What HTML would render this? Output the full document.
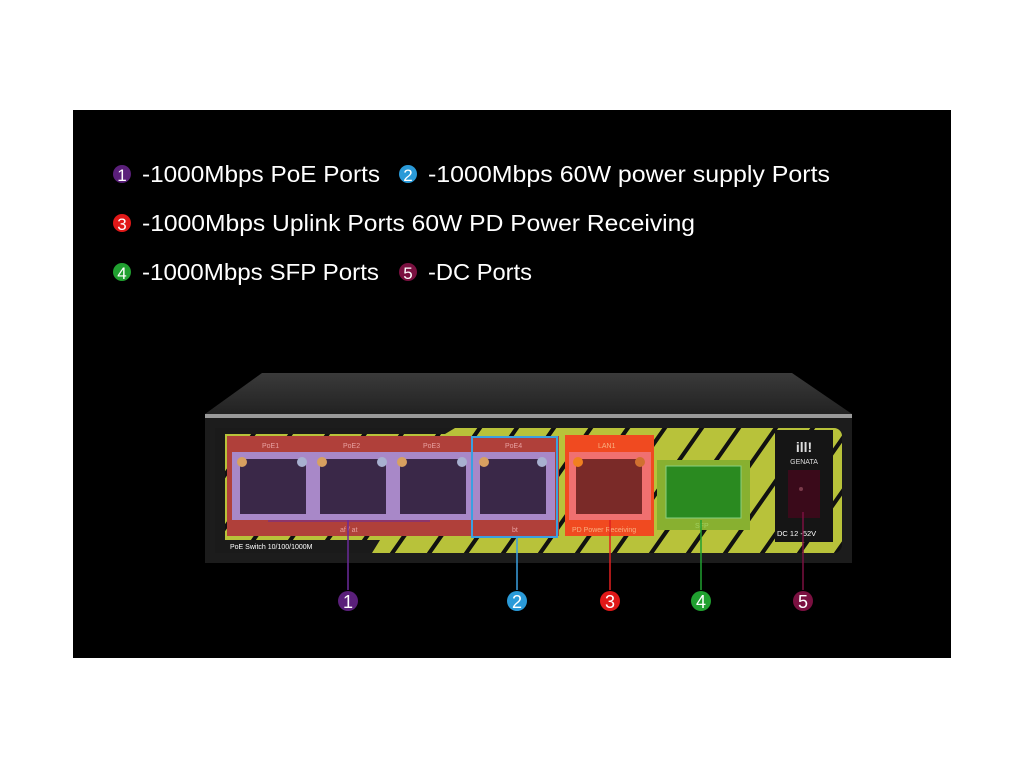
<!DOCTYPE html>
<html><head><meta charset="utf-8"><style>
html,body{margin:0;padding:0;background:#fff;width:1024px;height:768px;overflow:hidden}
svg{display:block}
</style></head><body>
<svg width="1024" height="768" viewBox="0 0 1024 768" xmlns="http://www.w3.org/2000/svg" font-family="Liberation Sans, sans-serif">
<defs>
<pattern id="st" width="37" height="130" patternUnits="userSpaceOnUse" patternTransform="skewX(-35)">
<rect width="37" height="130" fill="#b8c23a"/>
<rect x="0" width="5" height="130" fill="#111"/>
</pattern>
<linearGradient id="top" x1="0" y1="0" x2="0" y2="1"><stop offset="0" stop-color="#3a3a3a"/><stop offset="1" stop-color="#222"/></linearGradient>
</defs>
<rect x="73" y="110" width="878" height="548" fill="#000"/>
<g font-size="23" fill="#fff">
<circle cx="122" cy="174" r="9" fill="#5a1f7a"/><text x="122" y="181" font-size="17" text-anchor="middle">1</text>
<text x="142" y="182" textLength="238" lengthAdjust="spacingAndGlyphs">-1000Mbps PoE Ports</text>
<circle cx="408" cy="174" r="9" fill="#2a9ad8"/><text x="408" y="181" font-size="17" text-anchor="middle">2</text>
<text x="428" y="182" textLength="402" lengthAdjust="spacingAndGlyphs">-1000Mbps 60W power supply Ports</text>
<circle cx="122" cy="223" r="9" fill="#e01818"/><text x="122" y="230" font-size="17" text-anchor="middle">3</text>
<text x="142" y="231" textLength="553" lengthAdjust="spacingAndGlyphs">-1000Mbps Uplink Ports 60W PD Power Receiving</text>
<circle cx="122" cy="272" r="9" fill="#20a030"/><text x="122" y="279" font-size="17" text-anchor="middle">4</text>
<text x="142" y="280" textLength="237" lengthAdjust="spacingAndGlyphs">-1000Mbps SFP Ports</text>
<circle cx="408" cy="272" r="9" fill="#7a1040"/><text x="408" y="279" font-size="17" text-anchor="middle">5</text>
<text x="428" y="280" textLength="104" lengthAdjust="spacingAndGlyphs">-DC Ports</text>
</g>
<polygon points="262,373 792,373 852,414 205,414" fill="url(#top)"/>
<rect x="205" y="414" width="647" height="4" fill="#9a9a9a"/>
<rect x="205" y="418" width="647" height="145" fill="#1c1c1c"/>
<rect x="215" y="428" width="627" height="125" rx="8" fill="url(#st)"/>
<polygon points="215,428 455,428 445,434 225,434 225,540 380,540 372,553 215,553" fill="#1a1a1a"/>
<text x="230" y="549" font-size="7" fill="#fff">PoE Switch   10/100/1000M</text>
<rect x="227" y="436" width="332" height="100" fill="#b0403a"/>
<rect x="232" y="452" width="323" height="68" fill="#a888c8"/>
<g font-size="7" fill="#e8a0a0"><text x="262" y="448">PoE1</text><text x="343" y="448">PoE2</text><text x="423" y="448">PoE3</text><text x="505" y="448">PoE4</text><text x="340" y="532">af / at</text><text x="512" y="532">bt</text></g>
<g fill="#3a2848">
<rect x="240" y="459" width="66" height="55"/><rect x="320" y="459" width="66" height="55"/><rect x="400" y="459" width="66" height="55"/><rect x="480" y="459" width="66" height="55"/>
</g>
<g fill="#d8a060"><circle cx="242" cy="462" r="5"/><circle cx="322" cy="462" r="5"/><circle cx="402" cy="462" r="5"/><circle cx="484" cy="462" r="5"/></g>
<g fill="#a8b0d0"><circle cx="302" cy="462" r="5"/><circle cx="382" cy="462" r="5"/><circle cx="462" cy="462" r="5"/><circle cx="542" cy="462" r="5"/></g>
<rect x="472" y="437" width="85" height="100" fill="none" stroke="#3aa0e0" stroke-width="2"/>
<rect x="565" y="435" width="89" height="101" fill="#f04a20"/>
<rect x="569" y="452" width="82" height="68" fill="#f07070"/>
<rect x="576" y="459" width="66" height="55" fill="#7a2a28"/>
<circle cx="578" cy="462" r="5" fill="#f08020"/><circle cx="640" cy="462" r="5" fill="#d07030"/>
<text x="598" y="448" font-size="7" fill="#f8b080">LAN1</text>
<text x="572" y="532" font-size="7" fill="#f8b080">PD Power Receiving</text>
<rect x="657" y="460" width="93" height="70" fill="#88b030"/>
<rect x="666" y="466" width="75" height="52" fill="#2a8a20" stroke="#8ad080" stroke-width="1"/>
<text x="695" y="528" font-size="7" fill="#a0d060">SFP</text>
<rect x="775" y="430" width="58" height="112" fill="#151515"/>
<text x="804" y="452" font-size="14" font-weight="bold" fill="#ddd" text-anchor="middle">ill!</text>
<text x="804" y="464" font-size="7" fill="#ddd" text-anchor="middle">GENATA</text>
<rect x="788" y="470" width="32" height="48" fill="#3a0a1a"/>
<circle cx="801" cy="489" r="2" fill="#7a3a4a"/>
<text x="777" y="536" font-size="7.5" fill="#fff">DC 12 -52V</text>
<g stroke-width="1.5" fill="none">
<path d="M348 520 V590" stroke="#6a2a9a"/><path d="M268 521 H430" stroke="#6a2a9a" stroke-width="1"/>
<path d="M517 537 V590" stroke="#3aa0e0"/>
<path d="M610 520 V590" stroke="#e02020"/>
<path d="M701 520 V590" stroke="#20a030"/>
<path d="M803 512 V590" stroke="#7a1040"/>
</g>
<g font-size="18" fill="#fff" text-anchor="middle">
<circle cx="348" cy="601" r="10" fill="#5a1f7a"/><text x="348" y="608">1</text>
<circle cx="517" cy="601" r="10" fill="#2a9ad8"/><text x="517" y="608">2</text>
<circle cx="610" cy="601" r="10" fill="#e01818"/><text x="610" y="608">3</text>
<circle cx="701" cy="601" r="10" fill="#20a030"/><text x="701" y="608">4</text>
<circle cx="803" cy="601" r="10" fill="#7a1040"/><text x="803" y="608">5</text>
</g>
</svg>
</body></html>
